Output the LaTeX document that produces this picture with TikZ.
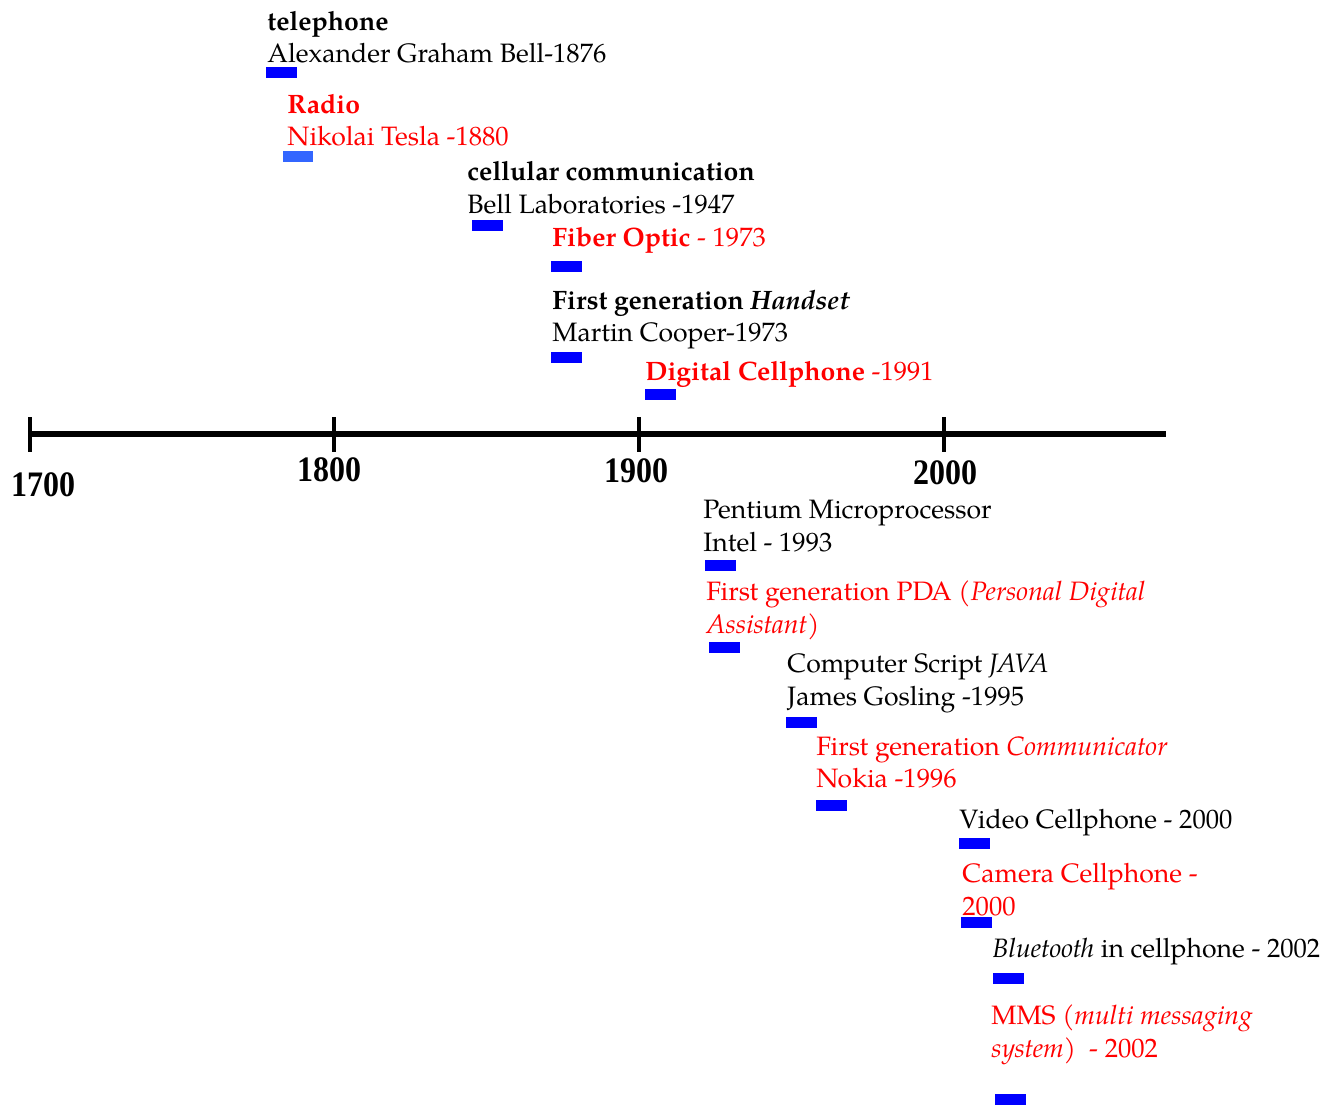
\documentclass[tikz,border=0pt]{standalone}
\usepackage{fontspec}
\setmainfont{TeX Gyre Pagella}
\newfontfamily\yearfont{Liberation Serif}
\definecolor{barblue}{RGB}{0,0,255}
\definecolor{paleblue}{RGB}{51,102,255}
\definecolor{evred}{RGB}{255,0,0}

\begin{document}
\begin{tikzpicture}[x=0.5pt, y=-0.5pt,
        ev/.style={anchor=base west, inner sep=0pt, font=\fontsize{13.3}{16}\selectfont},
        evred/.style={ev, text=evred},
        bar/.style={fill=barblue},
        yr/.style={anchor=base, inner sep=0pt, font=\yearfont\bfseries\fontsize{16}{18}\selectfont}]
            \useasboundingbox (0,0) rectangle (1339,1104);

            % time axis
            \coordinate (axL) at (28,434);
            \coordinate (axR) at (1166,434);
            \draw[line width=3pt] (axL) -- (axR);
            \draw[line width=2pt] (30,417) -- (30,452);
            \draw[line width=2pt] (334,417) -- (334,452);
            \draw[line width=2pt] (639,417) -- (639,452);
            \draw[line width=2pt] (944,417) -- (944,452);
            \node[yr] (y1700) at (43,496) {\scalebox{1}[1.12]{1700}};
            \node[yr] (y1800) at (329,481) {\scalebox{1}[1.12]{1800}};
            \node[yr] (y1900) at (636,482) {\scalebox{1}[1.12]{1900}};
            \node[yr] (y2000) at (945,484) {\scalebox{1}[1.12]{2000}};

            % above the axis
            \node[ev] (telT) at (267,30) {\bfseries telephone};
            \node[ev] (telN) at (267,62) {Alexander Graham Bell-1876};
            \fill[bar] (266,67) rectangle +(31,11);

            \node[evred] (radT) at (287,113) {\bfseries Radio};
            \node[evred] (radN) at (287,145) {Nikolai Tesla -1880};
            \fill[paleblue] (283,151) rectangle +(30,11);

            \node[ev] (celT) at (467,180) {\bfseries cellular communication};
            \node[ev] (celN) at (467,213) {Bell Laboratories -1947};
            \fill[bar] (472,220) rectangle +(31,11);

            \node[evred] (fib) at (552,246) {\textbf{Fiber Optic} - 1973};
            \fill[bar] (551,261) rectangle +(31,11);

            \node[ev] (hanT) at (552,309) {\textbf{First generation \textit{Handset}}};
            \node[ev] (hanN) at (552,341) {Martin Cooper-1973};
            \fill[bar] (551,352) rectangle +(31,11);

            \node[evred] (dig) at (645,380) {\textbf{Digital Cellphone} -1991};
            \fill[bar] (645,389) rectangle +(31,11);

            % below the axis
            \node[ev] (penT) at (703,518) {Pentium Microprocessor};
            \node[ev] (penN) at (703,551) {Intel - 1993};
            \fill[bar] (705,560) rectangle +(31,11);

            \node[evred] (pdaA) at (706,600) {First generation PDA (\textit{Personal Digital}};
            \node[evred] (pdaB) at (706,633) {\textit{Assistant})};
            \fill[bar] (709,642) rectangle +(31,11);

            \node[ev] (javT) at (787,672) {Computer Script \textit{JAVA}};
            \node[ev] (javN) at (787,705) {James Gosling -1995};
            \fill[bar] (786,717) rectangle +(31,11);

            \node[evred] (comT) at (816,755) {First generation \textit{Communicator}};
            \node[evred] (comN) at (816,787) {Nokia -1996};
            \fill[bar] (816,800) rectangle +(31,11);

            \node[ev] (vid) at (959,828) {Video Cellphone - 2000};
            \fill[bar] (959,838) rectangle +(31,11);

            \node[evred] (camA) at (962,882) {Camera Cellphone -};
            \node[evred] (camB) at (962,915) {2000};
            \fill[bar] (961,917) rectangle +(31,11);

            \node[ev] (blu) at (992,957) {\textit{Bluetooth} in cellphone - 2002};
            \fill[bar] (993,973) rectangle +(31,11);

            \node[evred] (mmsA) at (991,1024) {MMS (\textit{multi messaging}};
            \node[evred] (mmsB) at (991,1057) {\textit{system})\ \ - 2002};
            \fill[bar] (995,1094) rectangle +(31,11);
        \end{tikzpicture}
\end{document}
